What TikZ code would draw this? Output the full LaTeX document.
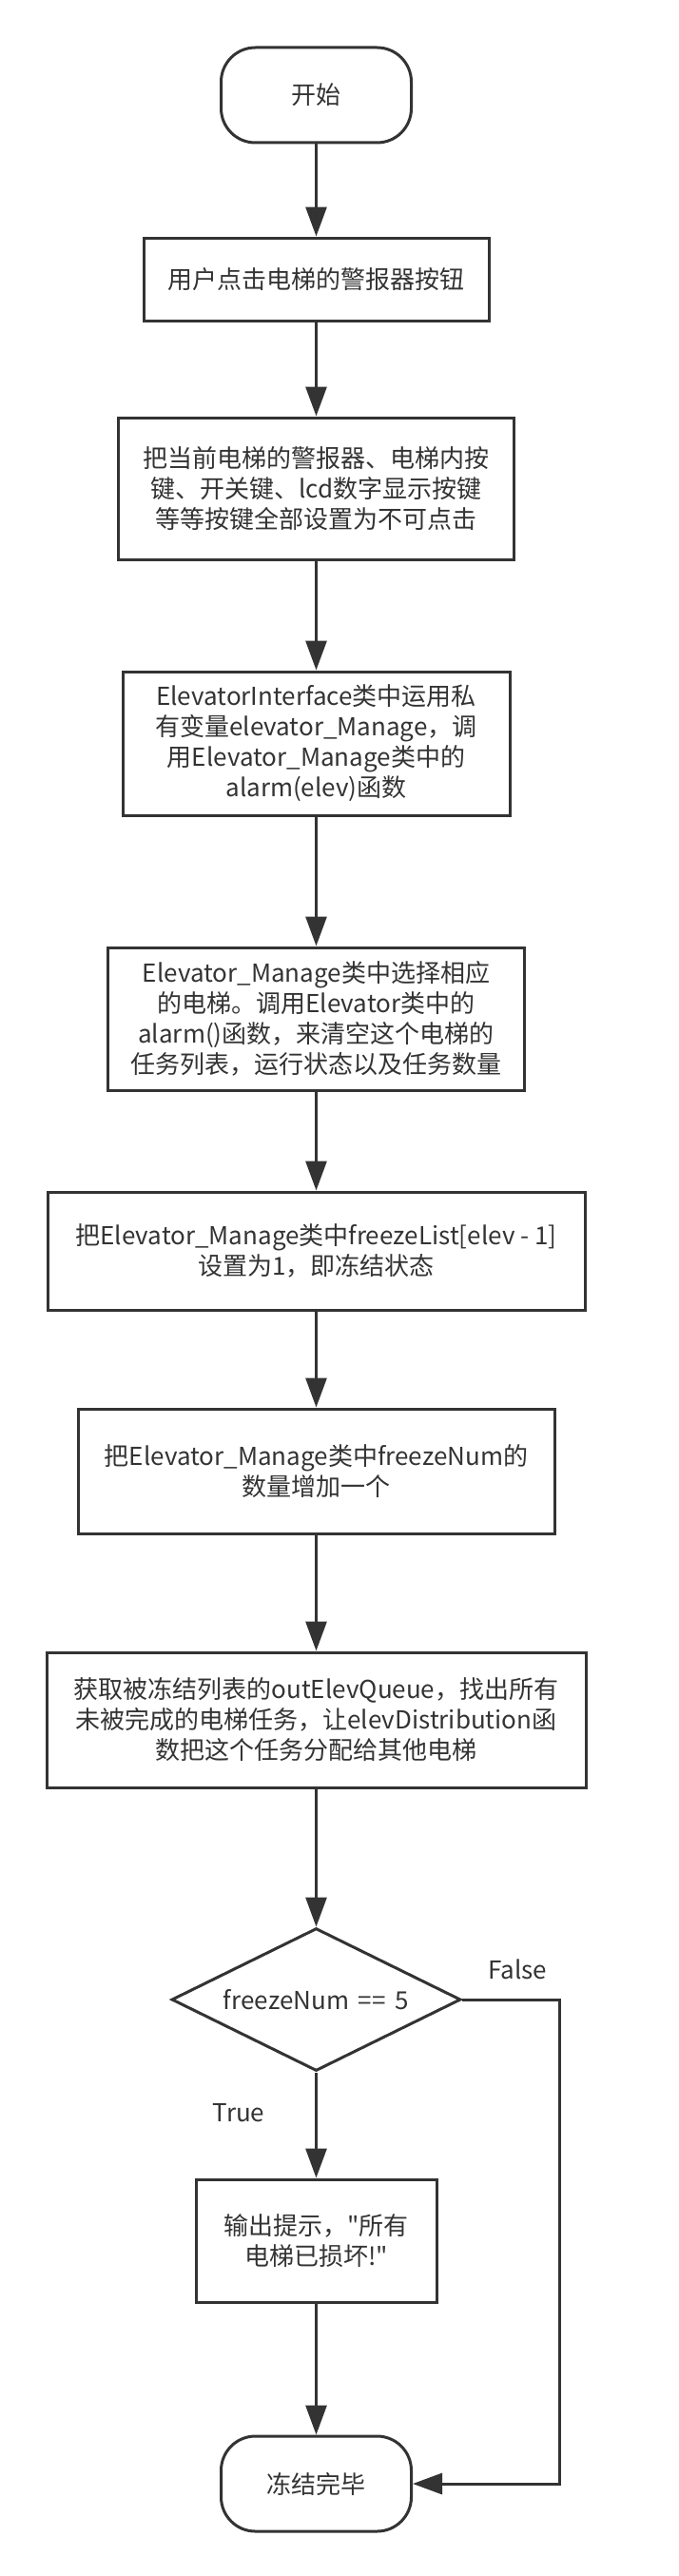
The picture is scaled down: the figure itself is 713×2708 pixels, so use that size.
\documentclass[tikz,border=0pt]{standalone}
\usepackage{fontspec}
\setmainfont{Noto Sans CJK SC}
\usepackage{xcolor}
\usetikzlibrary{arrows.meta,shapes.geometric}
\definecolor{ink}{HTML}{333333}

\begin{document}
\begin{tikzpicture}[x=1pt,y=-1pt,line width=3pt,draw=ink,
	every node/.style={font=\fontsize{26}{32}\selectfont,align=center,text=ink},
	box/.style={draw=ink,line width=3pt,rectangle,inner sep=0pt},
	term/.style={draw=ink,line width=3pt,rectangle,rounded corners=36pt,minimum width=200pt,minimum height=100pt},
	cond/.style={draw=ink,line width=3pt,diamond,aspect=2.03,inner sep=0pt,minimum width=304pt,minimum height=150pt},
	arr/.style={-{Triangle[length=31pt,width=22pt]}}]
			\useasboundingbox (0,0) rectangle (713,2708);
			\node[term] (start) at (332.5,100) {开始};
			\node[box,minimum width=363pt,minimum height=87pt] (b1) at (332.5,293.5) {用户点击电梯的警报器按钮};
			\node[box,minimum width=416pt,minimum height=149pt] (b2) at (332.5,513.5) {把当前电梯的警报器、电梯内按\\键、开关键、lcd数字显示按键\\等等按键全部设置为不可点击};
			\node[box,minimum width=407pt,minimum height=151pt] (b3) at (332.5,781.5) {ElevatorInterface类中运用私\\有变量elevator\_Manage，调\\用Elevator\_Manage类中的\\alarm(elev)函数};
			\node[box,minimum width=438pt,minimum height=150pt] (b4) at (332.5,1071) {Elevator\_Manage类中选择相应\\的电梯。调用Elevator类中的\\alarm()函数，来清空这个电梯的\\任务列表，运行状态以及任务数量};
			\node[box,minimum width=565pt,minimum height=124pt] (b5) at (332.5,1315) {把Elevator\_Manage类中freezeList[elev - 1]\\设置为1，即冻结状态};
			\node[box,minimum width=501pt,minimum height=131pt] (b6) at (332.5,1546.5) {把Elevator\_Manage类中freezeNum的\\数量增加一个};
			\node[box,minimum width=567pt,minimum height=142pt] (b7) at (332.5,1808) {获取被冻结列表的outElevQueue，找出所有\\未被完成的电梯任务，让elevDistribution函\\数把这个任务分配给其他电梯};
			\node[cond] (dec) at (332.5,2102) {freezeNum\hspace{4pt} ==\hspace{4pt} 5};
			\node[box,minimum width=253pt,minimum height=129pt] (b8) at (332.5,2355.5) {输出提示，\textquotedbl 所有\\电梯已损坏!\textquotedbl};
			\node[term] (stop) at (332.5,2611) {冻结完毕};
			\node (lf) at (544,2070) {False};
			\node (lt) at (251,2221) {True};
			\coordinate (fk) at (588,2102);
			\draw[arr] (start) -- (b1);
			\draw[arr] (b1) -- (b2);
			\draw[arr] (b2) -- (b3);
			\draw[arr] (b3) -- (b4);
			\draw[arr] (b4) -- (b5);
			\draw[arr] (b5) -- (b6);
			\draw[arr] (b6) -- (b7);
			\draw[arr] (b7) -- (dec);
			\draw[arr] (dec) -- (b8);
			\draw[arr] (b8) -- (stop);
			\draw[arr] (dec.east) -- (fk) |- (stop.east);
		\end{tikzpicture}
\end{document}
